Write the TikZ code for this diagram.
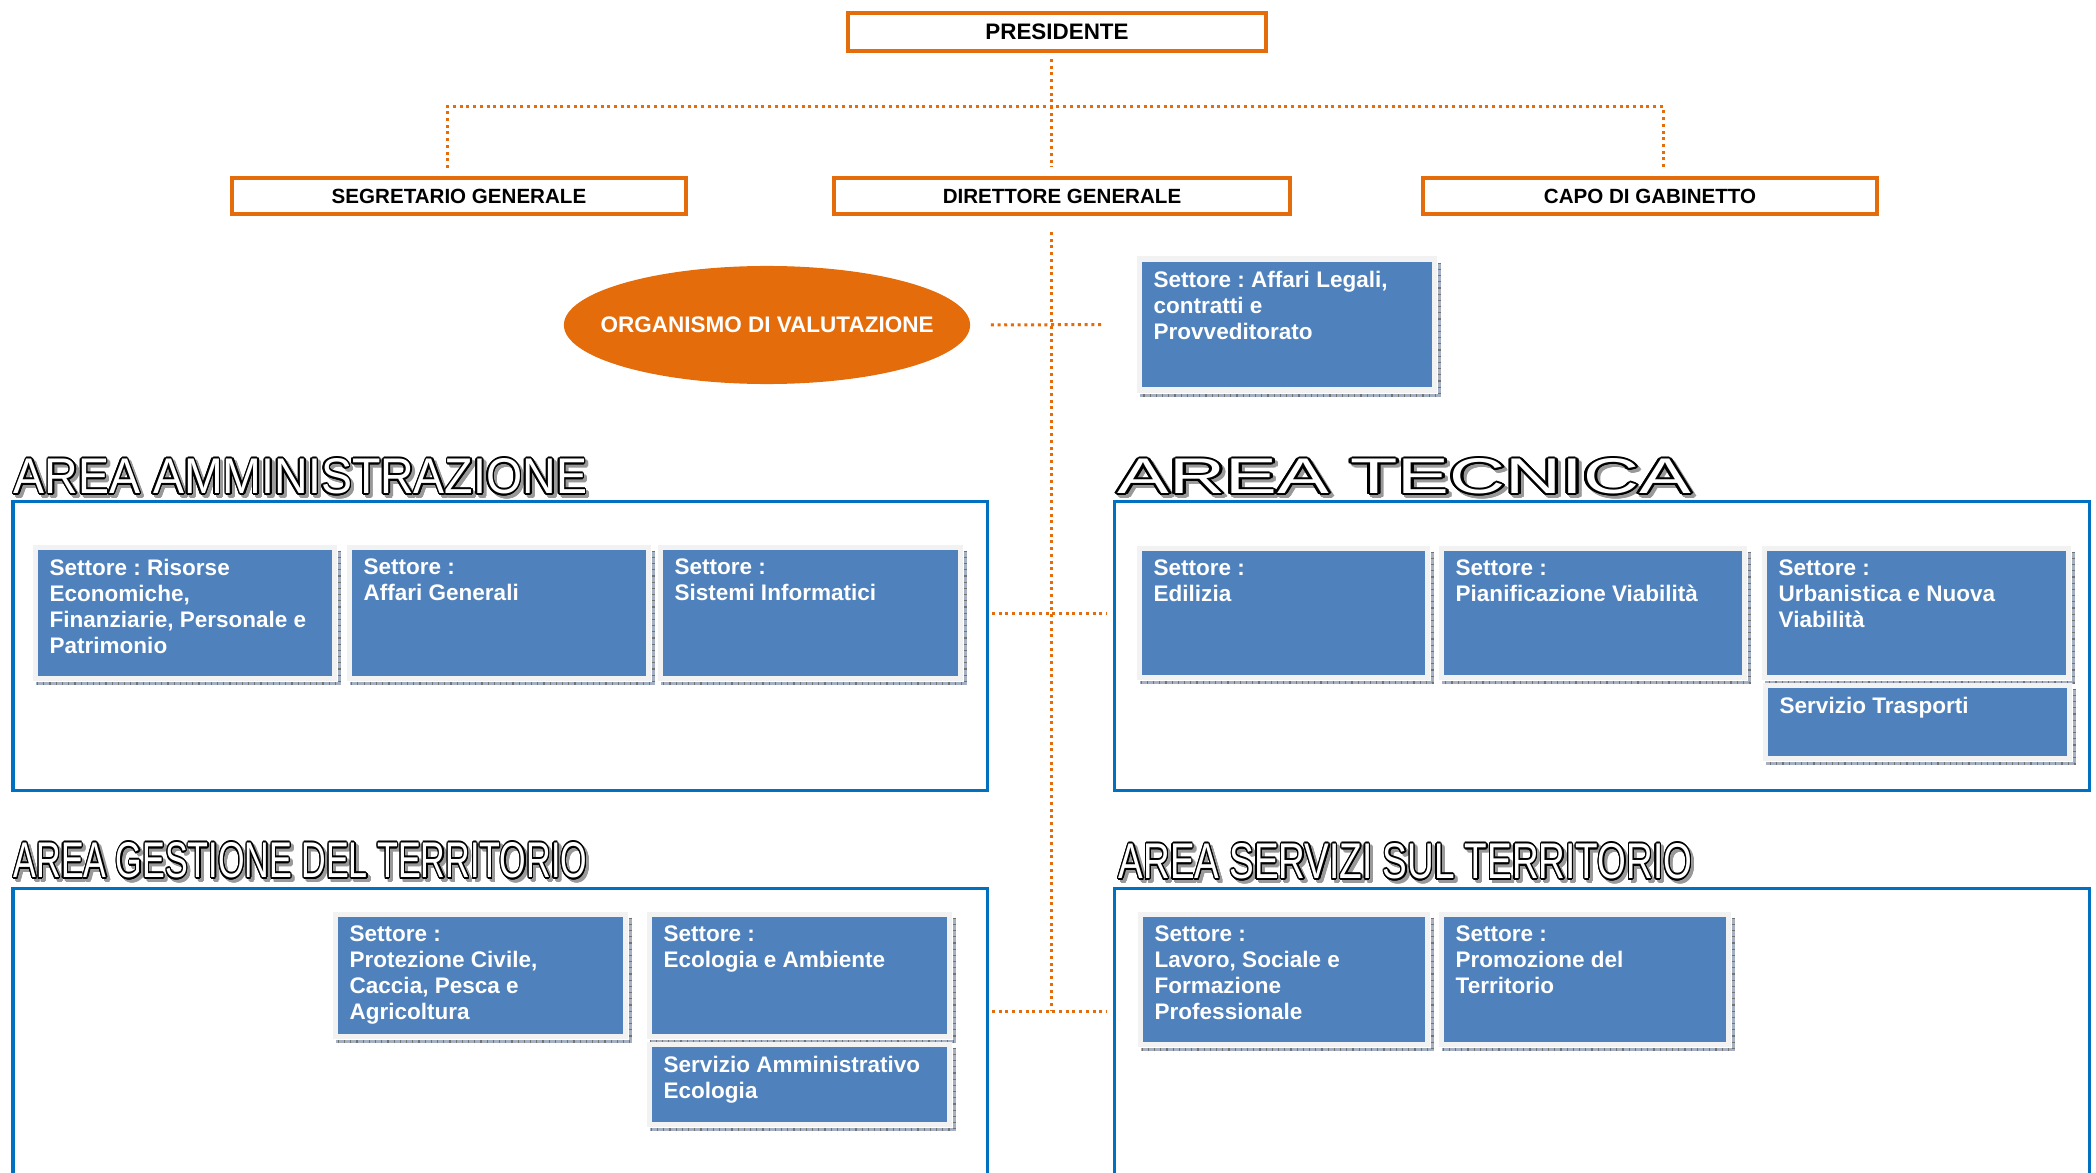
\documentclass[tikz,border=0pt]{standalone}
\usepackage{fontspec}
\setmainfont{Liberation Sans}
\usepackage{graphicx}
\usepackage{contour}
\usetikzlibrary{shapes.geometric}
\definecolor{arancio}{HTML}{E46C0A}
\definecolor{blu}{HTML}{4F81BD}
\definecolor{bordoarea}{HTML}{0070C0}
\definecolor{cornice}{HTML}{F2F2F2}
\definecolor{ombra}{HTML}{A5B1C2}
\frenchspacing
\tikzset{
  carica/.style={draw=arancio, line width=0.04cm, fill=white, inner sep=0, font=\bfseries\fontsize{5.85pt}{7pt}\selectfont},
  linea/.style={draw=arancio, line width=0.03cm, dash pattern=on 0.03cm off 0.037cm},
  area/.style={draw=bordoarea, line width=0.03cm},
  settbox/.style={fill=blu, draw=cornice, line width=0.05cm, inner sep=0},
  setttext/.style={text=white, align=left, inner sep=0, font=\bfseries\fontsize{6.4pt}{7.4pt}\selectfont},
  settshadow/.style={draw=ombra, line width=0.03cm, postaction={draw=black!55, dash pattern=on 0.012cm off 0.05cm}},
}
\contourlength{0.5pt}
\newcommand{\titolo}[3]{\resizebox{5.73cm}{0.35cm}{\fontsize{14pt}{16pt}\selectfont\textcolor{#1}{\contour{#2}{#3}}}}
% name, left, top, right, bottom, text
\newcommand{\settore}[6]{%
  \node[settbox, anchor=north west, minimum width={(#4-#2+5)*0.01cm}, minimum height={(#5-#3+5)*0.01cm}] (#1) at ({#2-2.5},{#3-2.5}) {};
  \node[setttext, anchor=north west] at ({#2+14},{#3+11}) {#6};
  \draw[settshadow] ([xshift=0.03cm, yshift=-0.06cm]#1.north east) |- ([xshift=0.03cm, yshift=-0.03cm]#1.south west);
}

\begin{document}
\begin{tikzpicture}[x=0.01cm, y=-0.01cm]
    \useasboundingbox (0,0) rectangle (2096,1173);
    % vertici
    \node[carica, minimum width=4.18cm, minimum height=0.38cm, font=\bfseries\fontsize{6.37pt}{7pt}\selectfont] (pres) at (1057,32) {PRESIDENTE};
    \node[carica, minimum width=4.54cm, minimum height=0.36cm] (sg) at (459,196) {SEGRETARIO GENERALE};
    \node[carica, minimum width=4.55cm, minimum height=0.36cm] (dg) at (1062,196) {DIRETTORE GENERALE};
    \node[carica, minimum width=4.54cm, minimum height=0.36cm] (cg) at (1650,196) {CAPO DI GABINETTO};
    \node[ellipse, fill=arancio, minimum width=4.06cm, minimum height=1.18cm, inner xsep=-0.4cm, inner ysep=0, text=white, font=\bfseries\fontsize{6.4pt}{7.4pt}\selectfont] (oiv) at (767,325) {ORGANISMO DI VALUTAZIONE};
    % collegamenti
    \coordinate (tronco) at (1051,107);
    \coordinate (sgtop) at (447,107);
    \coordinate (cgtop) at (1663,107);
    \coordinate (fondo) at (1051,1010);
    \draw[linea] ([yshift=-0.06cm]pres.south -| tronco) -- ([yshift=0.09cm]dg.north -| tronco);
    \draw[linea] ([yshift=0.08cm]sg.north -| sgtop) -- (sgtop) -- (cgtop) -- ([yshift=0.08cm]cg.north -| cgtop);
    \draw[linea] ([yshift=-0.16cm]dg.south -| tronco) -- (fondo);
    \coordinate (ramoa) at (992,613);
    \coordinate (ramob) at (1107,613);
    \coordinate (ramoc) at (992,1011);
    \coordinate (ramod) at (1107,1011);
    \draw[linea] (ramoa) -- (ramob);
    \draw[linea] (ramoc) -- (ramod);
    % aree
    \draw[area] (13,501) rectangle (987,790);
    \draw[area] (1114,501) rectangle (2089,790);
    \draw[area] (13,1173) -- (13,888) -- (987,888) -- (987,1173);
    \draw[area] (1114,1173) -- (1114,888) -- (2089,888) -- (2089,1173);
    \node[anchor=north west, inner sep=0] at (16,461) {\titolo{black!40}{black!40}{AREA AMMINISTRAZIONE}};
    \node[anchor=north west, inner sep=0] (tamm) at (13,458) {\titolo{white}{black}{AREA AMMINISTRAZIONE}};
    \node[anchor=north west, inner sep=0] at (1120,461) {\titolo{black!40}{black!40}{AREA TECNICA}};
    \node[anchor=north west, inner sep=0] (ttec) at (1117,458) {\titolo{white}{black}{AREA TECNICA}};
    \node[anchor=north west, inner sep=0] at (16,845) {\titolo{black!40}{black!40}{AREA GESTIONE DEL TERRITORIO}};
    \node[anchor=north west, inner sep=0] (tges) at (13,842) {\titolo{white}{black}{AREA GESTIONE DEL TERRITORIO}};
    \node[anchor=north west, inner sep=0] at (1121,846) {\titolo{black!40}{black!40}{AREA SERVIZI SUL TERRITORIO}};
    \node[anchor=north west, inner sep=0] (tser) at (1118,843) {\titolo{white}{black}{AREA SERVIZI SUL TERRITORIO}};
    % settori
    \settore{legali}{1139}{259}{1429}{385}{Settore : Affari Legali,\\contratti e\\Provveditorato}
    \draw[linea] ([xshift=0.2cm]oiv.east) -- ([xshift=-0.33cm]legali.west);
    \settore{risorse}{35}{547}{329}{673}{Settore : Risorse\\Economiche,\\Finanziarie, Personale e\\Patrimonio}
    \settore{generali}{349}{547}{643}{673}{Settore :\\Affari Generali}
    \settore{sistemi}{660}{547}{955}{673}{Settore :\\Sistemi Informatici}
    \settore{edilizia}{1139}{548}{1422}{672}{Settore :\\Edilizia}
    \settore{pianif}{1441}{548}{1739}{672}{Settore :\\Pianificazione Viabilità}
    \settore{urban}{1764}{548}{2063}{672}{Settore :\\Urbanistica e Nuova\\Viabilità}
    \settore{trasporti}{1765}{685}{2064}{753}{Servizio Trasporti}
    \settore{protez}{335}{914}{620}{1031}{Settore :\\Protezione Civile,\\Caccia, Pesca e\\Agricoltura}
    \settore{ecologia}{649}{914}{944}{1031}{Settore :\\Ecologia e Ambiente}
    \settore{servamm}{649}{1044}{944}{1119}{Servizio Amministrativo\\Ecologia}
    \settore{lavoro}{1140}{914}{1422}{1039}{Settore :\\Lavoro, Sociale e\\Formazione\\Professionale}
    \settore{promoz}{1441}{914}{1723}{1039}{Settore :\\Promozione del\\Territorio}
\end{tikzpicture}
\end{document}
